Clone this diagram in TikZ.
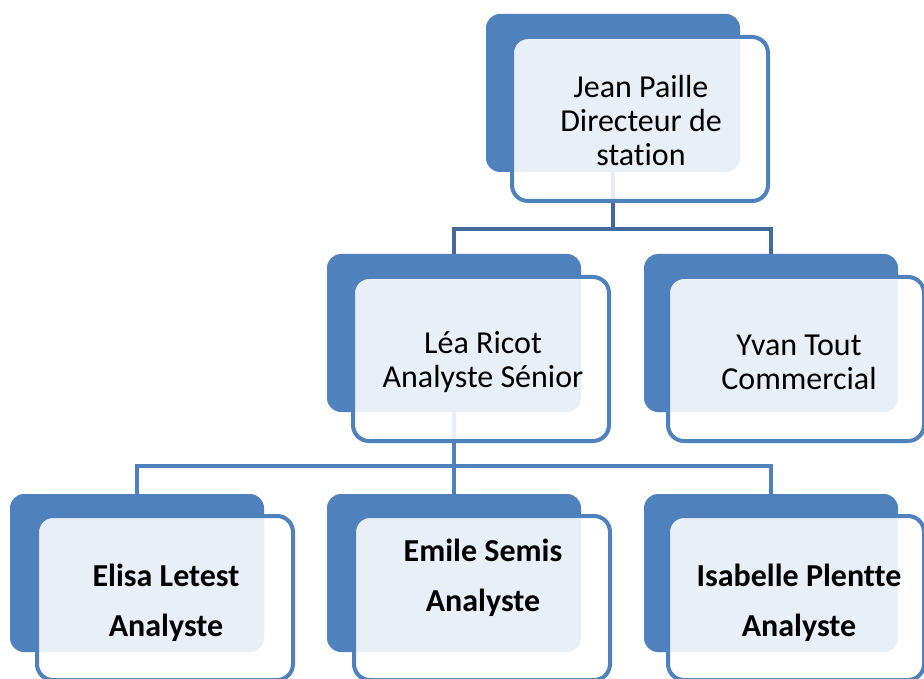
\documentclass[tikz,border=0pt]{standalone}
\usepackage{fontspec}
\setmainfont[Ligatures={NoCommon}]{Carlito}
\definecolor{acc}{HTML}{4F81BD}
\definecolor{conntop}{HTML}{44699C}
\begin{document}
\begin{tikzpicture}[x=1pt,y=-1pt,
  backbox/.style={fill=acc, rounded corners=14pt, minimum width=254pt, minimum height=158pt, inner sep=0pt, outer sep=0pt},
  frontbox/.style={draw=acc, line width=4pt, fill=white, fill opacity=0.88, rounded corners=16pt, minimum width=256pt, minimum height=164pt, inner sep=0pt, outer sep=0pt},
  regtext/.style={align=center, text=black, inner sep=0pt, font=\fontsize{32}{34}\selectfont},
  boldtext/.style={align=center, text=black, inner sep=0pt, font=\fontsize{32}{50}\selectfont\bfseries},
  connA/.style={draw=conntop, line width=4pt},
  connB/.style={draw=acc, line width=4pt}]
\useasboundingbox (0,0) rectangle (924,679);
% back boxes
\node[backbox] (jb) at (613,93) {};
\node[backbox] (lb) at (454,333) {};
\node[backbox] (yb) at (771,333) {};
\node[backbox] (eb) at (137,573) {};
\node[backbox] (mb) at (454,573) {};
\node[backbox] (ib) at (771,573) {};
\coordinate (busA) at (0,229);
\coordinate (busB) at (0,466);
% connectors
\draw[connA] (jb.south) -- (jb.south |- busA);
\draw[connA] (lb.north) |- (yb.north |- busA) -- (yb.north);
\draw[connB] (lb.south) -- (mb.north);
\draw[connB] (eb.north) |- (ib.north |- busB) -- (ib.north);
% front boxes
\node[frontbox] (jf) at (640,119) {};
\node[frontbox] (lf) at (481,359) {};
\node[frontbox] (yf) at (796,359) {};
\node[frontbox] (ef) at (165,598) {};
\node[frontbox] (mf) at (482,598) {};
\node[frontbox] (isf) at (796,598) {};
% texts
\node[regtext] (jt) at (641,121) {Jean Paille\\Directeur de\\station};
\node[regtext] (lt) at (483,362) {Léa Ricot\\Analyste Sénior};
\node[regtext] (yt) at (799,362) {Yvan Tout\\Commercial};
\node[boldtext] (et) at (166,603) {Elisa Letest\\Analyste};
\node[boldtext] (mt) at (483,578) {Emile Semis\\Analyste};
\node[boldtext] (it) at (799,603) {Isabelle Plentte\\Analyste};
\end{tikzpicture}
\end{document}
